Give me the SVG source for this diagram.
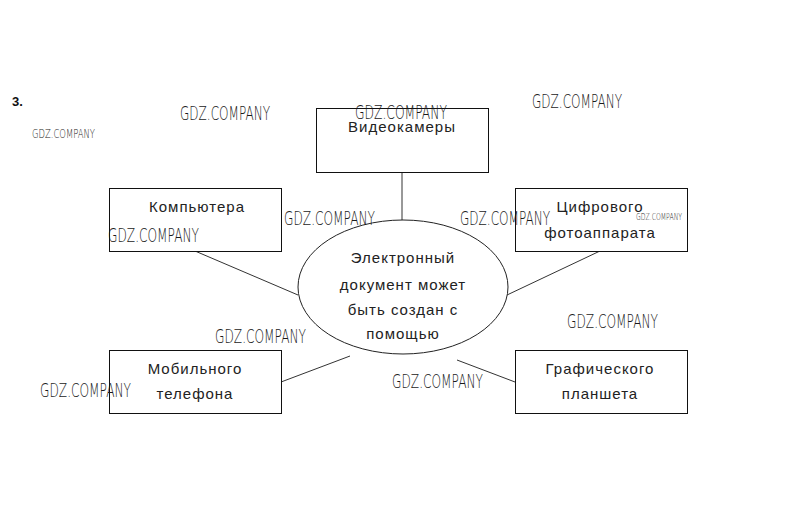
<svg xmlns="http://www.w3.org/2000/svg" width="802" height="520" viewBox="0 0 802 520">
<style>
.box{fill:#fff;stroke:#111;stroke-width:1}
.lbl{font-family:"Liberation Sans",Arial,sans-serif;font-size:15px;letter-spacing:1px;fill:#222;text-anchor:middle}
.wm{font-family:"DejaVu Sans",sans-serif;font-weight:300;fill:#1a1a1a;}
.conn line{stroke:#333;stroke-width:1}
</style>
<rect width="802" height="520" fill="#fff"/>
<text x="12" y="106" font-family="Liberation Sans,Arial,sans-serif" font-size="13" font-weight="bold" fill="#111">3.</text>
<g class="conn" id="connectors">
<line x1="402" y1="172" x2="402" y2="220"/>
<line x1="195" y1="251" x2="298" y2="295"/>
<line x1="600" y1="251" x2="507" y2="295"/>
<line x1="281" y1="382" x2="350" y2="356"/>
<line x1="515" y1="382" x2="457" y2="360"/>
</g>
<g id="center">
<ellipse cx="403" cy="287" rx="105" ry="67" fill="#fff" stroke="#222" stroke-width="1"/>
<text class="lbl" x="403" y="263">Электронный</text>
<text class="lbl" x="403" y="290">документ может</text>
<text class="lbl" x="403" y="315">быть создан с</text>
<text class="lbl" x="403" y="339">помощью</text>
</g>
<g id="video"><rect class="box" x="316.5" y="108.5" width="172" height="64"/><text class="lbl" x="402" y="132">Видеокамеры</text></g>
<g id="computer"><rect class="box" x="109.5" y="188.5" width="172" height="63"/><text class="lbl" x="197" y="212">Компьютера</text></g>
<g id="camera"><rect class="box" x="515.5" y="188.5" width="172" height="63"/><text class="lbl" x="600" y="212">Цифрового</text><text class="lbl" x="600" y="238">фотоаппарата</text></g>
<g id="mobile"><rect class="box" x="109.5" y="350.5" width="172" height="63"/><text class="lbl" x="195" y="374">Мобильного</text><text class="lbl" x="195" y="399">телефона</text></g>
<g id="tablet"><rect class="box" x="515.5" y="350.5" width="172" height="63"/><text class="lbl" x="600" y="374">Графического</text><text class="lbl" x="600" y="399">планшета</text></g>
<g id="watermarks" class="wm">
<text x="180" y="120" font-size="19" textLength="90" lengthAdjust="spacingAndGlyphs">GDZ.COMPANY</text>
<text x="32" y="138" font-size="13" textLength="63" lengthAdjust="spacingAndGlyphs">GDZ.COMPANY</text>
<text x="355" y="119" font-size="19" textLength="92" lengthAdjust="spacingAndGlyphs">GDZ.COMPANY</text>
<text x="532" y="108" font-size="19" textLength="90" lengthAdjust="spacingAndGlyphs">GDZ.COMPANY</text>
<text x="108" y="242" font-size="19" textLength="91" lengthAdjust="spacingAndGlyphs">GDZ.COMPANY</text>
<text x="284" y="225" font-size="19" textLength="91" lengthAdjust="spacingAndGlyphs">GDZ.COMPANY</text>
<text x="460" y="225" font-size="19" textLength="90" lengthAdjust="spacingAndGlyphs">GDZ.COMPANY</text>
<text x="636" y="220" font-size="9" textLength="46" lengthAdjust="spacingAndGlyphs">GDZ.COMPANY</text>
<text x="215" y="343" font-size="19" textLength="91" lengthAdjust="spacingAndGlyphs">GDZ.COMPANY</text>
<text x="40" y="397" font-size="19" textLength="91" lengthAdjust="spacingAndGlyphs">GDZ.COMPANY</text>
<text x="392" y="388" font-size="19" textLength="91" lengthAdjust="spacingAndGlyphs">GDZ.COMPANY</text>
<text x="567" y="328" font-size="19" textLength="91" lengthAdjust="spacingAndGlyphs">GDZ.COMPANY</text>
</g>
</svg>
